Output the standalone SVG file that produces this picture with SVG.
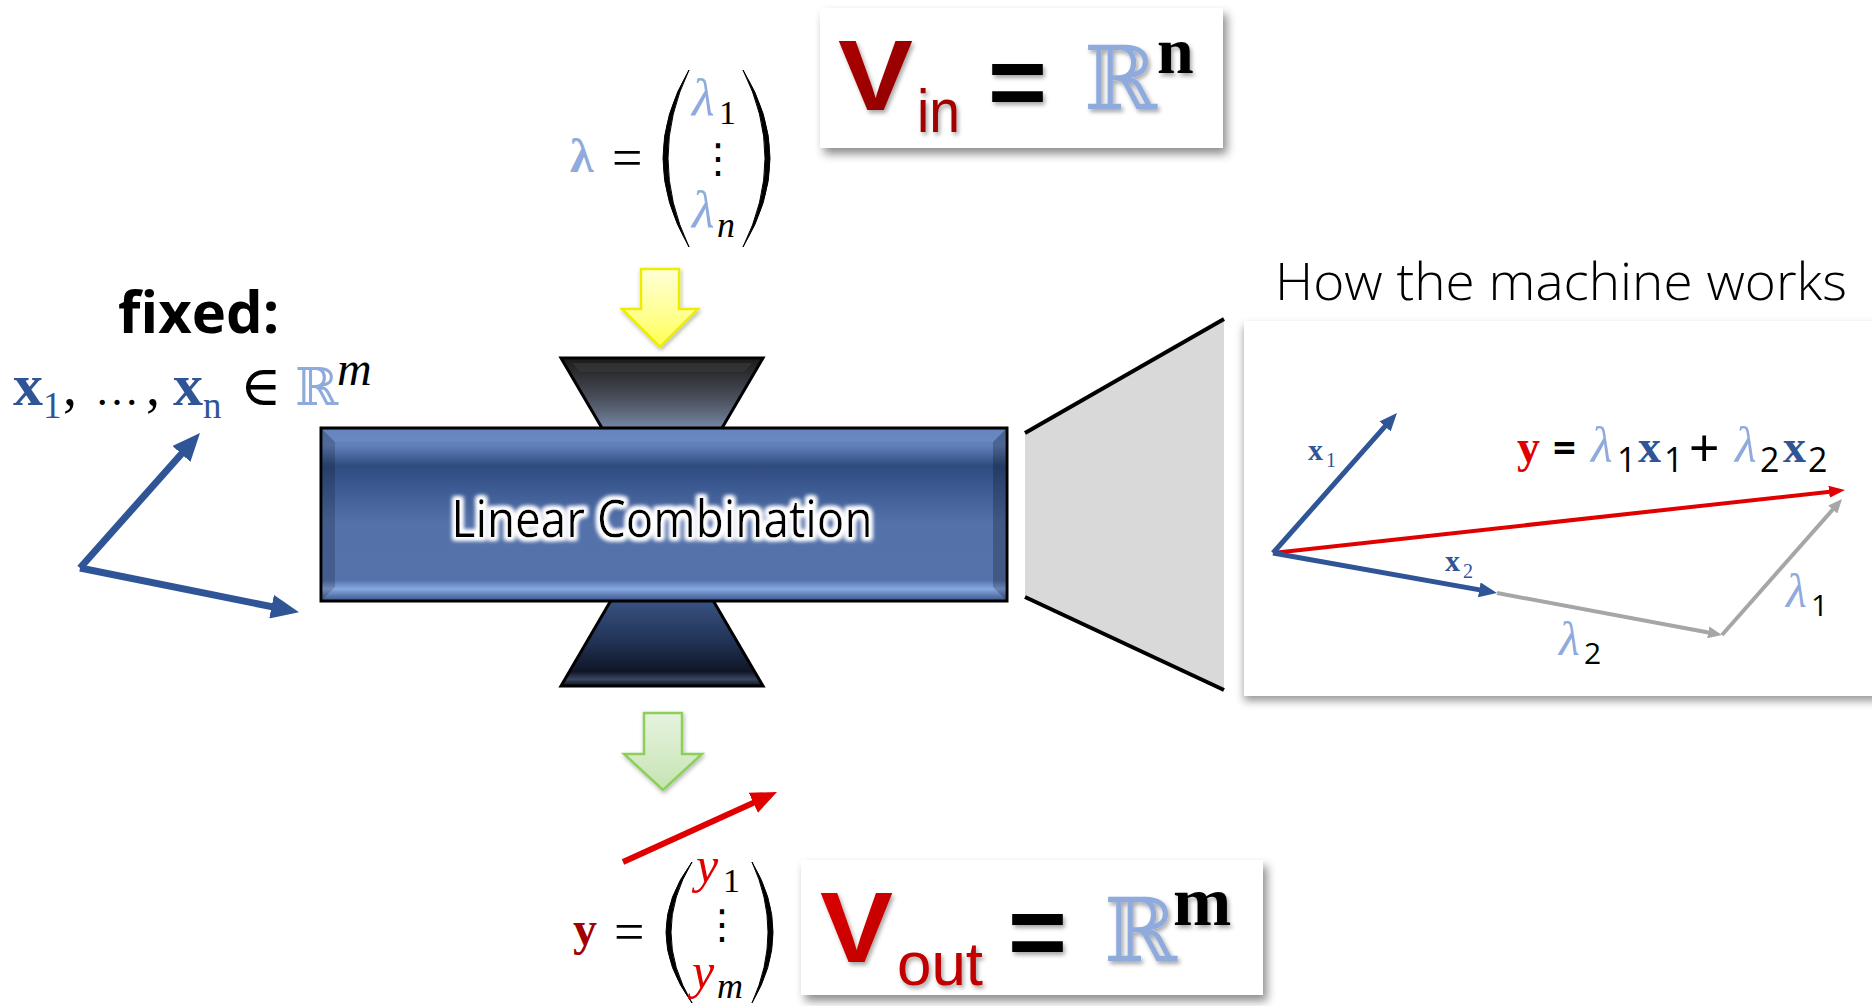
<svg xmlns="http://www.w3.org/2000/svg" width="1872" height="1006" viewBox="0 0 1872 1006">
<defs>
<style>
.serif{font-family:"Liberation Serif","DejaVu Serif",serif}
.sans{font-family:"Open Sans","Liberation Sans",sans-serif}
.arial{font-family:"Liberation Sans",Arial,sans-serif}
.dbl{font-family:"DejaVu Serif","DejaVu Sans",serif;fill:#8FAADC}
.lb{fill:#8FAADC}
.bl{fill:#2F5597}
.k{fill:#000}
</style>
<linearGradient id="gRect" x1="0" y1="0" x2="0" y2="1">
<stop offset="0" stop-color="#5b7bb5"/>
<stop offset="0.1" stop-color="#6281bb"/>
<stop offset="0.22" stop-color="#2f4b7e"/>
<stop offset="0.34" stop-color="#3c5a92"/>
<stop offset="0.55" stop-color="#5471aa"/>
<stop offset="0.88" stop-color="#5572ab"/>
<stop offset="0.93" stop-color="#88a8e2"/>
<stop offset="0.97" stop-color="#5a78b0"/>
<stop offset="1" stop-color="#3a5585"/>
</linearGradient>
<linearGradient id="gTop" x1="0" y1="0" x2="0" y2="1">
<stop offset="0" stop-color="#1a1a1a"/>
<stop offset="0.15" stop-color="#2a2a2c"/>
<stop offset="0.5" stop-color="#4a505c"/>
<stop offset="0.85" stop-color="#7585a2"/>
<stop offset="1" stop-color="#8090b0"/>
</linearGradient>
<linearGradient id="gBot" x1="0" y1="0" x2="0" y2="1">
<stop offset="0" stop-color="#3f5a8c"/>
<stop offset="0.5" stop-color="#23365a"/>
<stop offset="0.85" stop-color="#0f1626"/>
<stop offset="0.93" stop-color="#3a4660"/>
<stop offset="1" stop-color="#0a0f1a"/>
</linearGradient>
<linearGradient id="gYellow" x1="0" y1="0" x2="0" y2="1">
<stop offset="0" stop-color="#ffffd8"/>
<stop offset="0.6" stop-color="#ffff90"/>
<stop offset="1" stop-color="#ffff50"/>
</linearGradient>
<linearGradient id="gGreen" x1="0" y1="0" x2="0" y2="1">
<stop offset="0" stop-color="#e6f3df"/>
<stop offset="1" stop-color="#c6e4b2"/>
</linearGradient>
<linearGradient id="gRedDark" x1="0" y1="0" x2="1" y2="1">
<stop offset="0" stop-color="#b00000"/>
<stop offset="1" stop-color="#8a0000"/>
</linearGradient>
<linearGradient id="gRedBright" x1="0" y1="0" x2="1" y2="1">
<stop offset="0" stop-color="#e00000"/>
<stop offset="1" stop-color="#b80000"/>
</linearGradient>
<filter id="boxShadow" x="-10%" y="-10%" width="125%" height="135%">
<feDropShadow dx="4" dy="6" stdDeviation="5" flood-color="#000" flood-opacity="0.45"/>
</filter>
<filter id="panelShadow" x="-5%" y="-5%" width="115%" height="115%">
<feDropShadow dx="0" dy="5" stdDeviation="4" flood-color="#000" flood-opacity="0.4"/>
</filter>
<filter id="txtShadow" x="-20%" y="-20%" width="150%" height="150%">
<feDropShadow dx="2" dy="3" stdDeviation="2" flood-color="#000" flood-opacity="0.35"/>
</filter>
<filter id="softShadow" x="-20%" y="-20%" width="150%" height="150%">
<feDropShadow dx="1" dy="2" stdDeviation="2" flood-color="#000" flood-opacity="0.3"/>
</filter>
<filter id="glow" x="-10%" y="-40%" width="120%" height="180%">
<feMorphology in="SourceAlpha" operator="dilate" radius="2.5" result="d"/>
<feGaussianBlur in="d" stdDeviation="2" result="b"/>
<feFlood flood-color="#ffffff"/>
<feComposite in2="b" operator="in" result="g"/>
<feMerge><feMergeNode in="g"/><feMergeNode in="g"/><feMergeNode in="SourceGraphic"/></feMerge>
</filter>
<marker id="mBlueBig" viewBox="0 0 10 10" refX="5" refY="5" markerUnits="userSpaceOnUse" markerWidth="28" markerHeight="24" orient="auto" preserveAspectRatio="none"><path d="M0,0 L10,5 L0,10 z" fill="#2F5597"/></marker>
<marker id="mRedBig" viewBox="0 0 10 10" refX="5" refY="5" markerUnits="userSpaceOnUse" markerWidth="26" markerHeight="22" orient="auto" preserveAspectRatio="none"><path d="M0,0 L10,5 L0,10 z" fill="#E00000"/></marker>
<marker id="mBlueSm" viewBox="0 0 10 10" refX="5" refY="5" markerUnits="userSpaceOnUse" markerWidth="18" markerHeight="15" orient="auto" preserveAspectRatio="none"><path d="M0,0 L10,5 L0,10 z" fill="#2F5597"/></marker>
<marker id="mRedSm" viewBox="0 0 10 10" refX="5" refY="5" markerUnits="userSpaceOnUse" markerWidth="16" markerHeight="12" orient="auto" preserveAspectRatio="none"><path d="M0,0 L10,5 L0,10 z" fill="#E00000"/></marker>
<marker id="mGray" viewBox="0 0 10 10" refX="5" refY="5" markerUnits="userSpaceOnUse" markerWidth="14" markerHeight="12" orient="auto" preserveAspectRatio="none"><path d="M0,0 L10,5 L0,10 z" fill="#A6A6A6"/></marker>
</defs>
<rect width="1872" height="1006" fill="#ffffff"/>

<!-- lambda vector -->
<g id="node-lambda">
<text class="serif lb" x="570" y="172" font-size="48" font-weight="bold">λ</text>
<text class="serif k" x="612" y="176" font-size="54">=</text>
<path d="M689,70 Q637,158 689,247 Q647,158 689,70 Z" fill="#000" stroke="#000" stroke-width="1"/>
<path d="M743,70 Q797,158 743,247 Q787,158 743,70 Z" fill="#000" stroke="#000" stroke-width="1"/>
<text class="serif" font-size="52"><tspan class="lb" x="692" y="115" font-style="italic">λ</tspan><tspan class="k" x="719" y="124" font-size="34">1</tspan></text>
<text class="k" x="698" y="172" font-size="40" font-family="DejaVu Sans, sans-serif">⋮</text>
<text class="serif" font-size="52"><tspan class="lb" x="692" y="227" font-style="italic">λ</tspan><tspan class="k" x="717" y="237" font-size="36" font-style="italic">n</tspan></text>
</g>

<!-- V_in box -->
<g id="node-vin">
<rect x="820" y="8" width="403" height="140" fill="#ffffff" filter="url(#boxShadow)"/>
<g filter="url(#txtShadow)">
<text class="arial" x="838" y="110" font-size="100" font-weight="bold" fill="url(#gRedDark)" textLength="75" lengthAdjust="spacingAndGlyphs">V</text>
<text class="arial" x="917" y="132" font-size="62" fill="#A00000" textLength="43" lengthAdjust="spacingAndGlyphs">in</text>
<text class="arial k" x="988" y="116" font-size="100" font-weight="bold" textLength="59" lengthAdjust="spacingAndGlyphs">=</text>
<text class="dbl" x="1084" y="109" font-size="88">ℝ</text>
<text class="serif k" x="1157" y="73" font-size="66" font-weight="bold">n</text>
</g>
</g>

<!-- fixed basis -->
<g id="node-fixed">
<text class="sans k" x="118" y="333" font-size="58" font-weight="bold">fixed:</text>
<text class="serif" font-size="60">
<tspan class="bl" x="13" y="405" font-weight="bold">x</tspan><tspan class="bl" x="43" y="418" font-size="37">1</tspan><tspan class="k" x="63" y="405" font-size="56">,</tspan><tspan class="k" x="95" y="405" font-size="44">…</tspan><tspan class="k" x="146" y="405" font-size="56">,</tspan><tspan class="bl" x="173" y="405" font-weight="bold">x</tspan><tspan class="bl" x="203" y="418" font-size="37">n</tspan><tspan class="k" x="240" y="405" font-size="56">∈</tspan><tspan class="dbl" x="295" y="405" font-size="52">ℝ</tspan><tspan class="k" x="337" y="385" font-size="48" font-style="italic">m</tspan>
</text>
</g>

<!-- machine -->
<g id="node-machine">
<polygon points="561,358 763,358 715,440 609,440" fill="url(#gTop)" stroke="#000" stroke-width="3" stroke-linejoin="miter"/>
<polygon points="572,363 752,363 744,372 580,372" fill="#3a3a3e" opacity="0.6"/>
<polygon points="617,590 707,590 763,686 561,686" fill="url(#gBot)" stroke="#000" stroke-width="3"/>
<rect x="321" y="428" width="686" height="173" fill="url(#gRect)" stroke="#000" stroke-width="3"/>
<polygon points="323,430 335,442 335,587 323,599" fill="#000" opacity="0.18"/>
<polygon points="1005,430 993,442 993,587 1005,599" fill="#000" opacity="0.22"/>
<polygon points="323,430 1005,430 993,442 335,442" fill="#7a98cf" opacity="0.35"/>
<text class="sans k" x="662" y="537" font-size="52" text-anchor="middle" textLength="421" lengthAdjust="spacingAndGlyphs" filter="url(#glow)">Linear Combination</text>
</g>

<!-- zoom cone and panel -->
<g id="node-cone">
<polygon points="1025,433 1224,319 1224,690 1025,597" fill="#D9D9D9"/>
<line x1="1025" y1="433" x2="1224" y2="319" stroke="#000" stroke-width="4"/>
<line x1="1025" y1="597" x2="1224" y2="690" stroke="#000" stroke-width="4"/>
</g>

<g id="node-panel">
<text class="sans k" x="1275" y="300" font-size="52" font-weight="300" textLength="572" lengthAdjust="spacingAndGlyphs">How the machine works</text>
<rect x="1244" y="321" width="660" height="375" fill="#ffffff" filter="url(#panelShadow)"/>
<g id="panel-connectors" fill="none" stroke-linecap="butt">
<line x1="1273" y1="553" x2="1837" y2="490.9" stroke="#E00000" stroke-width="4" marker-end="url(#mRedSm)"/>
<line x1="1273" y1="553" x2="1391" y2="419.7" stroke="#2F5597" stroke-width="5" marker-end="url(#mBlueSm)"/>
<line x1="1497" y1="593" x2="1715.1" y2="633.7" stroke="#A6A6A6" stroke-width="4" marker-end="url(#mGray)"/>
<line x1="1722" y1="635" x2="1837.4" y2="504.3" stroke="#A6A6A6" stroke-width="4" marker-end="url(#mGray)"/>
<line x1="1273" y1="553" x2="1488.1" y2="591.4" stroke="#2F5597" stroke-width="5" marker-end="url(#mBlueSm)"/>
</g>
<text class="serif" font-size="30"><tspan class="bl" x="1308" y="460" font-weight="bold">x</tspan><tspan class="bl" x="1326" y="467" font-size="20">1</tspan></text>
<text class="serif" font-size="30"><tspan class="bl" x="1445" y="571" font-weight="bold">x</tspan><tspan class="bl" x="1463" y="578" font-size="20">2</tspan></text>
<text class="serif" font-size="48"><tspan class="lb" x="1559" y="655" font-style="italic">λ</tspan><tspan class="k sans" x="1584" y="664" font-size="30">2</tspan></text>
<text class="serif" font-size="48"><tspan class="lb" x="1786" y="607" font-style="italic">λ</tspan><tspan class="k sans" x="1811" y="616" font-size="30">1</tspan></text>
<text class="serif" font-size="46">
<tspan x="1517" y="462" font-weight="bold" fill="#E00000">y</tspan><tspan class="k sans" x="1553" y="462" font-size="40" font-weight="bold">=</tspan><tspan class="lb" x="1591" y="462" font-size="50" font-style="italic">λ</tspan><tspan class="k sans" x="1617" y="472" font-size="34">1</tspan><tspan class="bl" x="1638" y="462" font-weight="bold">x</tspan><tspan class="k sans" x="1664" y="472" font-size="34">1</tspan><tspan class="k arial" x="1689" y="466" font-size="52">+</tspan><tspan class="lb" x="1735" y="462" font-size="50" font-style="italic">λ</tspan><tspan class="k sans" x="1760" y="472" font-size="34">2</tspan><tspan class="bl" x="1783" y="462" font-weight="bold">x</tspan><tspan class="k sans" x="1808" y="472" font-size="34">2</tspan>
</text>
</g>

<!-- output vector -->
<g id="node-y">
<text class="serif" x="573" y="945" font-size="48" font-weight="bold" fill="#A00000">y</text>
<text class="serif k" x="614" y="950" font-size="54">=</text>
<path d="M692,862 Q640,932 692,1003 Q650,932 692,862 Z" fill="#000" stroke="#000" stroke-width="1"/>
<path d="M752,862 Q794,932 752,1003 Q784,932 752,862 Z" fill="#000" stroke="#000" stroke-width="1"/>
<text class="serif" font-size="50"><tspan x="696" y="882" font-style="italic" fill="#E00000">y</tspan><tspan class="k" x="723" y="892" font-size="34">1</tspan></text>
<text class="k" x="702" y="938" font-size="40" font-family="DejaVu Sans, sans-serif">⋮</text>
<text class="serif" font-size="50"><tspan x="692" y="988" font-style="italic" fill="#E00000">y</tspan><tspan class="k" x="717" y="998" font-size="36" font-style="italic">m</tspan></text>
</g>

<!-- V_out box -->
<g id="node-vout">
<rect x="801" y="860" width="462" height="135" fill="#ffffff" filter="url(#boxShadow)"/>
<g filter="url(#txtShadow)">
<text class="arial" x="820" y="962" font-size="100" font-weight="bold" fill="url(#gRedBright)" textLength="73" lengthAdjust="spacingAndGlyphs">V</text>
<text class="arial" x="897" y="985" font-size="62" fill="#C00000" textLength="86" lengthAdjust="spacingAndGlyphs">out</text>
<text class="arial k" x="1008" y="966" font-size="100" font-weight="bold" textLength="59" lengthAdjust="spacingAndGlyphs">=</text>
<text class="dbl" x="1104" y="961" font-size="88">ℝ</text>
<text class="serif k" x="1173" y="925" font-size="70" font-weight="bold">m</text>
</g>
</g>

<!-- connectors -->
<g id="connectors">
<polygon points="641,269 679,269 679,309 698,309 660,347 622,309 641,309" fill="url(#gYellow)" stroke="#EDED00" stroke-width="2.5" filter="url(#softShadow)"/>
<polygon points="644,713 682,713 682,754 702,754 663,790 624,754 644,754" fill="url(#gGreen)" stroke="#8CD05A" stroke-width="2.5" filter="url(#softShadow)"/>
<line x1="80" y1="568" x2="190.7" y2="443.5" stroke="#2F5597" stroke-width="7" marker-end="url(#mBlueBig)"/>
<line x1="80" y1="568" x2="285.3" y2="609.4" stroke="#2F5597" stroke-width="7" marker-end="url(#mBlueBig)"/>
<line x1="623" y1="862" x2="765.2" y2="797.4" stroke="#E00000" stroke-width="6" marker-end="url(#mRedBig)"/>
</g>
</svg>
